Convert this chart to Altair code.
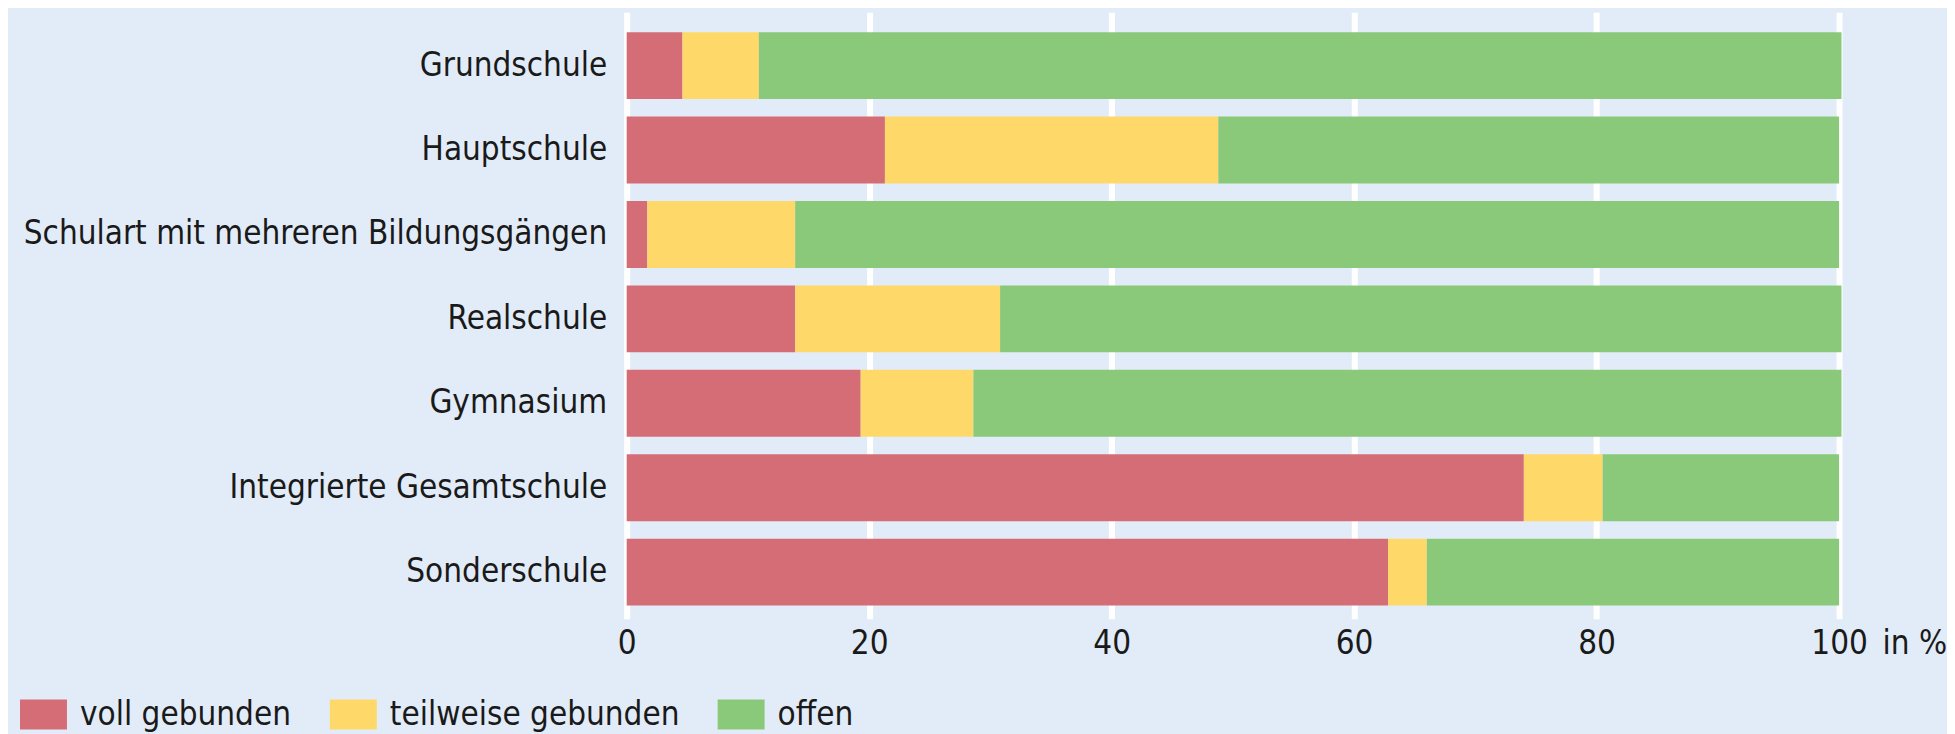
import altair as alt
import pandas as pd

categories = [
    "Grundschule",
    "Hauptschule",
    "Schulart mit mehreren Bildungsgängen",
    "Realschule",
    "Gymnasium",
    "Integrierte Gesamtschule",
    "Sonderschule",
]
series = ["voll gebunden", "teilweise gebunden", "offen"]
voll = [4.6, 21.3, 1.7, 13.9, 19.3, 74.0, 62.8]
teilweise = [6.3, 27.5, 12.2, 16.9, 9.3, 6.5, 3.2]
offen = [89.3, 51.2, 86.1, 69.4, 71.6, 19.5, 34.0]
x_ticks = [0, 20, 40, 60, 80, 100]

colors = ["#D56D76", "#FFD86A", "#8AC97A"]
bg = "#E2ECF8"
txt = "#1a1a1a"
FONT = "DejaVu Sans Condensed"
FS = 33

rows = []
for i, c in enumerate(categories):
    for j, (s, vals) in enumerate(zip(series, [voll, teilweise, offen])):
        rows.append({"Schulart": c, "Art": s, "Wert": vals[i], "idx": j})
df = pd.DataFrame(rows)

chart = (
    alt.Chart(df)
    .mark_bar()
    .encode(
        y=alt.Y(
            "Schulart:N",
            sort=categories,
            title=None,
            scale=alt.Scale(paddingInner=0.207, paddingOuter=0.197, align=0.6),
            axis=alt.Axis(
                ticks=False, domain=False, grid=False, labelPadding=20,
                labelFontSize=FS, labelFont=FONT, labelColor=txt, labelLimit=0,
                tickSize=0,
            ),
        ),
        x=alt.X(
            "Wert:Q",
            stack="zero",
            scale=alt.Scale(domain=[0, 100], nice=False),
            title="in %",
            axis=alt.Axis(
                values=x_ticks, ticks=False, tickSize=0, domain=False, grid=True,
                gridColor="white", gridWidth=6, gridOpacity=1,
                labelFontSize=FS, labelFont=FONT, labelColor=txt, labelPadding=9,
                labelFlush=False,
                titleFont=FONT, titleFontSize=FS, titleFontWeight="normal",
                titleColor=txt, titleX=1256, titleY=9, titleAlign="left",
                titleBaseline="top", titleAnchor="start",
            ),
        ),
        color=alt.Color(
            "Art:N",
            scale=alt.Scale(domain=series, range=colors),
            legend=alt.Legend(
                title=None, orient="none", direction="horizontal", columns=3,
                legendX=-607, legendY=679,
                symbolType="M-1,-0.638H1V0.638H-1Z", symbolSize=2209,
                symbolStrokeWidth=0, symbolOpacity=1,
                labelFont=FONT, labelFontSize=FS, labelColor=txt,
                labelOffset=13, columnPadding=38, labelLimit=0,
            ),
        ),
        order=alt.Order("idx:Q", sort="ascending"),
    )
    .properties(
        width=1213,
        height=607,
        autosize=alt.AutoSizeParams(type="none"),
        padding={"left": 619, "top": 4, "right": 108, "bottom": 115},
        background=bg,
    )
    .configure_view(stroke=None)
)

chart.save("out.html", embed_options={"renderer": "svg", "actions": False})
